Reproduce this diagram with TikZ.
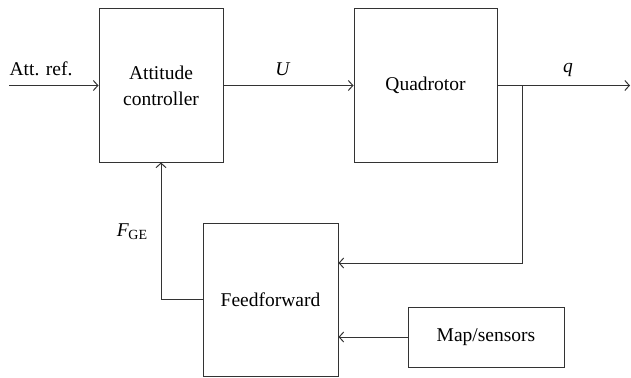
\documentclass[tikz,border=0pt]{standalone}
\usepackage{fontspec}
\setmainfont{Liberation Serif}
\usetikzlibrary{arrows.meta}
\begin{document}
\begin{tikzpicture}[x=1pt,y=-1pt,
  blk/.style={draw=black!80, line width=1pt, inner sep=0pt, align=center,
    font=\rmfamily\fontsize{19.5}{26}\selectfont},
  lbl/.style={inner sep=0pt, font=\rmfamily\fontsize{19.5}{23}\selectfont},
  arr/.style={draw=black!80, line width=1pt,
    -{Straight Barb[length=4.5pt,width=10pt,line width=1pt]}},
  wire/.style={draw=black!80, line width=1pt}]
\useasboundingbox (0,0) rectangle (631,377);

% blocks
\node[blk, minimum width=124pt, minimum height=153pt] (ctrl) at (161,85.5) {Attitude\\controller};
\node[blk, minimum width=143pt, minimum height=153pt] (quad) at (425.5,85.5) {Quadrotor};
\node[blk, minimum width=135pt, minimum height=153pt] (ff) at (270.5,299.5) {Feedforward};
\node[blk, minimum width=156pt, minimum height=60pt] (map) at (486,337) {Map/sensors};

% free ends and the branch point
\coordinate (in) at (9,85.5);
\coordinate (out) at (630,85.5);
\coordinate (br) at (522,85.5);
\coordinate (fbk) at (522,263);

% signal flow
\draw[arr] (in) -- (ctrl.west);
\draw[arr] (ctrl.east) -- (quad.west);
\draw[arr] (quad.east) -- (out);
\draw[arr] (br) -- (fbk) -- (fbk -| ff.east);
\draw[arr] (map.west) -- (map.west -| ff.east);
\draw[arr] (ff.west) -| (ctrl.south);

% signal labels
\node[lbl] (lref) at (41,69) {Att. ref.};
\node[lbl] (lu) at (283,69) {\textit{U}};
\node[lbl] (lq) at (568,70) {\textit{q}};
\node[lbl] (lf) at (132,232) {\textit{F}\kern-0.5pt\raisebox{-3pt}{\fontsize{14}{14}\selectfont GE}};
\end{tikzpicture}
\end{document}
